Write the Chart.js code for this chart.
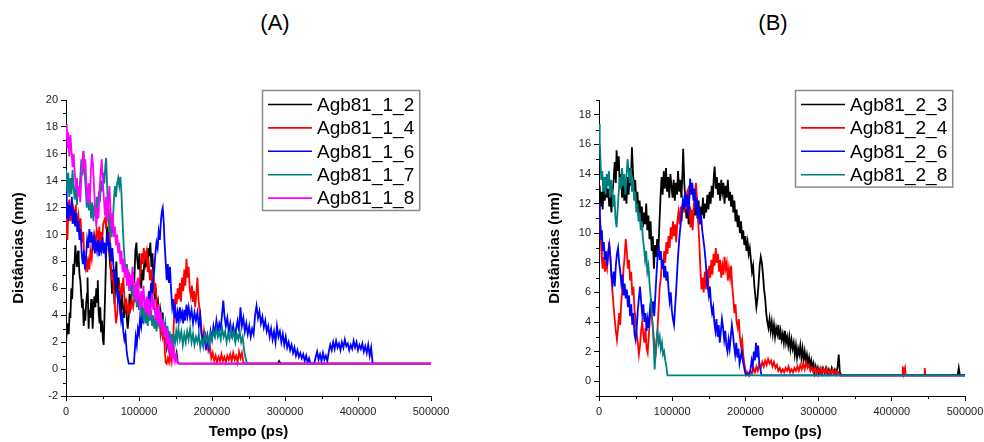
<!DOCTYPE html>
<html>
<head>
<meta charset="utf-8">
<script src="https://cdn.jsdelivr.net/npm/chart.js@4.4.1/dist/chart.umd.min.js"></script>
<style>
  body { margin: 0; width: 984px; height: 442px; overflow: hidden; background: #fff; position: relative; }
  canvas { position: absolute; top: 0; }
  #chartA { left: 0; }
  #chartB { left: 492px; }
  .panel { position: absolute; top: 10px; font: 22px Arial, "Liberation Sans", sans-serif; color: #000; transform: translateX(-50%); }
</style>
</head>
<body>
<div class="panel" style="left:275px">(A)</div>
<div class="panel" style="left:773px">(B)</div>
<canvas id="chartA" width="492" height="442"></canvas>
<canvas id="chartB" width="500" height="442"></canvas>
<script>
// tempos em ps x1000, distâncias em nm
const xTicks = [0, 100000, 200000, 300000, 400000, 500000];
const yTicksA = [-2, 0, 2, 4, 6, 8, 10, 12, 14, 16, 18, 20];
const yTicksB = [0, 2, 4, 6, 8, 10, 12, 14, 16, 18];

const namesA = ['Agb81_1_2', 'Agb81_1_4', 'Agb81_1_6', 'Agb81_1_7', 'Agb81_1_8'];
const namesB = ['Agb81_2_3', 'Agb81_2_4', 'Agb81_2_6', 'Agb81_2_8'];
const colorsA = ['#000000', '#ff0000', '#0000ff', '#008080', '#ff00ff'];
const colorsB = ['#000000', '#ff0000', '#0000ff', '#008080'];

const agb81_1_2 = [[0,2.0],[2,3.4],[3.7,2.6],[5,4.2],[6,3.8],[7.3,6.0],[8.5,5.2],[10,7.8],[11,7.0],[12.8,9.2],[14,8.1],[15,7.6],[16.5,8.8],[17.4,8.2],[18.5,7.0],[19.6,6.6],[21,5.4],[22,4.6],[23,5.2],[24.2,3.2],[25.5,4.0],[26.5,3.6],[27.5,4.8],[28.8,5.6],[29.5,6.8],[30.5,4.2],[31,3.0],[32,4.4],[33.3,3.8],[34.5,5.2],[35.6,4.4],[36.5,3.0],[37.9,4.8],[39,5.4],[40.2,4.6],[41.5,6.0],[42.5,5.0],[43.5,6.6],[44.7,4.2],[46,3.4],[47,4.6],[48,2.8],[49.3,3.6],[50.5,2.2],[51.6,1.8],[52.5,3.5],[53.9,6.2],[55,8.6],[56.2,10.6],[57,9.2],[58,10.0],[59,8.8],[60.7,7.6],[62,7.0],[63,5.6],[64,7.4],[65.5,6.0],[66.5,4.8],[67.6,6.6],[69,8.0],[70,6.2],[71,5.2],[72.1,6.8],[73.5,5.4],[75,4.0],[76.7,5.6],[78,4.6],[79.5,3.8],[81.3,5.2],[83,4.0],[84.5,3.0],[85.8,3.8],[87,5.6],[88.5,4.4],[90.4,6.0],[92,7.2],[93.5,6.4],[95,8.8],[96.5,9.4],[97.5,8.2],[99,7.4],[100.5,8.6],[102,7.0],[103,6.0],[104.5,7.4],[106,6.6],[107.5,8.2],[109,7.8],[110.5,8.8],[111.5,7.6],[113,9.0],[114,8.4],[115.5,9.4],[117,7.6],[118.5,8.6],[120,6.4],[121.5,5.2],[123,6.0],[124.5,4.6],[126,5.0],[127.5,3.6],[129,4.4],[131,3.4],[132.5,4.2],[134,2.8],[136,2.4],[138,1.6],[140,2.4],[141.5,1.6],[143,2.2],[145,1.4],[146.5,2.0],[148,1.0],[150,0.8],[151.5,1.2],[153,0.5],[155,0.4],[290,0.4],[292,0.6],[294,0.4],[500,0.4]];

const agb81_1_4 = [[0,12.2],[1,10.4],[2,9.6],[3,11.6],[4.5,12.6],[6,11.0],[7.8,12.0],[9,10.8],[10.5,11.8],[12,11.2],[13.5,12.2],[15,10.6],[16.9,11.4],[18.5,10.2],[20,11.2],[21.5,9.4],[23.7,10.2],[25,8.2],[26.5,7.6],[28,8.4],[29,7.2],[30.6,8.0],[32,7.4],[33.5,8.8],[35.2,8.2],[36.5,9.4],[37.4,8.8],[39,9.8],[40.5,9.2],[42,10.4],[44.3,9.6],[45.5,10.6],[46.6,9.2],[48,10.2],[49.5,9.4],[51,10.8],[53.4,11.2],[55,10.4],[56.5,11.8],[58,12.4],[59.5,10.8],[61,8.4],[62.6,6.6],[64,7.2],[65.5,5.8],[67,4.6],[68.5,3.4],[70.3,4.2],[71.5,5.4],[73,6.0],[74.5,5.2],[76,6.4],[77,5.6],[78.5,6.8],[80,5.4],[81.5,4.6],[83,5.0],[84.5,4.0],[86,4.8],[88,4.4],[90,5.2],[92,4.6],[94.5,5.6],[96,6.2],[97.5,5.4],[99,6.0],[101,6.6],[102.5,7.4],[103.6,8.6],[105,7.8],[106.5,9.0],[108,8.2],[110.5,8.8],[112,7.2],[113.5,7.8],[115,6.6],[116.5,7.4],[118,6.0],[119.5,7.0],[121,5.6],[122.5,6.4],[124,5.2],[125.5,4.0],[126.5,3.4],[128,3.8],[129.5,2.6],[131,3.2],[132.5,2.4],[134,2.8],[135.6,1.2],[136.5,0.5],[138,0.4],[139.5,0.8],[141,0.5],[142.5,1.2],[144,0.6],[145.5,1.4],[147,2.6],[148.5,4.2],[150,5.6],[151.5,4.8],[153,6.0],[154.5,5.2],[156,6.4],[157.5,5.0],[159,6.8],[160.7,5.8],[162,7.4],[163.5,6.2],[165,8.2],[166.5,6.8],[168,7.6],[169.5,6.0],[171,5.4],[172.5,6.2],[174,5.0],[175.5,5.8],[177,4.6],[178.5,5.6],[180,6.8],[181.5,5.2],[183,4.4],[184.5,3.2],[186,2.4],[187.5,2.0],[189,2.8],[191,1.8],[193,2.4],[195,1.4],[197,1.8],[199,0.8],[201,1.2],[203,0.6],[205,1.0],[207,0.5],[209,0.9],[211,0.6],[213,1.1],[215,0.6],[217,0.9],[219,0.5],[221,1.0],[223,0.7],[225,1.1],[227,0.6],[229,1.2],[231,0.7],[233,1.0],[235,0.5],[237,1.3],[239,0.8],[241,1.2],[243,0.5],[245,0.4],[500,0.4]];

const agb81_1_6 = [[0,13.6],[1,11.2],[2,12.4],[3.5,11.0],[5,12.2],[6.5,11.4],[8,12.8],[9.5,10.8],[11,11.8],[12.5,10.6],[14,11.6],[15.5,10.2],[17,11.0],[18.5,9.6],[20,10.4],[21.5,8.6],[23,7.8],[24.5,8.8],[26,7.4],[27.5,8.4],[29,9.6],[30.5,9.0],[32,10.4],[33.5,9.4],[35,10.2],[36.5,9.2],[38,9.8],[39.5,8.6],[41,9.4],[42.5,8.8],[44,9.6],[45.5,8.4],[47,9.2],[48.5,8.8],[50,9.8],[51.5,8.6],[53,9.4],[54.5,8.2],[56,9.6],[57.5,10.2],[59,8.8],[60.5,9.4],[62,8.0],[63.5,9.0],[65,7.6],[66.5,6.8],[68,7.4],[69.5,6.0],[71,5.2],[72.5,5.8],[74,4.4],[75.5,3.6],[77,4.2],[78.5,2.8],[80,2.2],[81.5,2.6],[83,1.4],[84.5,0.8],[86,0.4],[93,0.4],[94,1.2],[95.5,2.4],[97,1.8],[98.5,3.0],[100,2.6],[101.5,3.8],[103,3.2],[104.5,4.2],[106,3.4],[107.5,4.6],[109,4.0],[110.5,5.2],[112,4.4],[113.5,5.8],[115,4.8],[116.5,6.4],[118,5.6],[119.5,6.6],[121,7.4],[122.5,8.6],[124,9.4],[125.5,9.0],[127,10.2],[128.5,9.6],[130,11.0],[131.5,11.8],[132.5,12.0],[134,10.8],[135,9.4],[136.5,8.0],[138,6.6],[139.5,7.8],[141,6.4],[142.5,7.6],[144,5.8],[145.5,4.6],[147,5.2],[148.5,3.8],[150,4.4],[151.5,3.4],[153,4.2],[154.5,3.6],[156,4.6],[157.5,3.8],[159,4.2],[160.5,3.4],[162,4.4],[163.5,3.6],[165,4.8],[166.5,4.0],[168,4.6],[170,3.8],[172,4.4],[174,3.4],[176,4.2],[178,3.6],[180,4.2],[182,3.2],[184,4.0],[186,2.6],[188,1.8],[190,2.8],[192,1.4],[194,2.4],[196,1.6],[198,2.8],[200,2.2],[202,3.2],[204,2.6],[206,3.6],[208,2.8],[210,3.4],[212,3.0],[214,4.2],[215.5,5.1],[217,4.0],[219,3.2],[221,3.8],[223,2.8],[225,3.4],[227,2.6],[229,3.2],[231,2.4],[233,3.0],[235,3.6],[237,2.8],[239,4.6],[241,3.2],[243,3.8],[245,2.8],[247,3.4],[249,2.6],[251,3.2],[253,2.4],[255,3.0],[257,2.6],[259,4.0],[261,4.7],[263,3.8],[265,4.3],[267,3.4],[269,3.9],[271,3.1],[273,3.6],[275,2.8],[277,3.2],[279,2.4],[281,3.0],[283,2.2],[285,2.8],[287,2.0],[289,3.2],[291,2.4],[293,2.8],[295,2.0],[297,2.6],[299,1.8],[301,2.4],[303,1.6],[305,2.0],[307,1.4],[309,1.8],[311,1.2],[313,1.6],[315,1.0],[317,1.4],[319,0.9],[321,1.2],[323,0.8],[325,1.1],[327,0.6],[329,1.0],[331,0.5],[333,0.8],[335,0.4],[340,0.4],[342,0.9],[344,1.3],[346,0.7],[348,1.1],[350,0.6],[352,1.2],[354,0.7],[356,1.0],[358,0.6],[360,1.3],[362,1.8],[364,1.4],[366,2.0],[368,1.5],[370,2.1],[372,1.6],[374,1.9],[376,1.4],[378,2.0],[380,1.6],[382,2.2],[384,1.7],[386,1.9],[388,1.4],[390,1.8],[392,1.5],[394,2.1],[396,1.6],[398,2.0],[400,1.4],[402,1.8],[404,1.5],[406,1.9],[408,1.3],[410,1.7],[412,1.2],[414,1.8],[416,1.0],[418,1.6],[420,0.5],[421,0.4]];

const agb81_1_7 = [[0,14.8],[1.5,13.2],[3,14.6],[4.5,12.8],[6,14.2],[7.5,13.0],[9,14.8],[10.5,13.4],[12,12.6],[13.5,13.8],[15,12.2],[16.5,13.6],[18,12.8],[19.5,14.2],[21,15.6],[22.5,14.4],[24,16.2],[25.5,14.6],[27,13.4],[28.5,12.0],[30,13.0],[31.5,11.8],[33,12.6],[34.5,11.2],[36,12.4],[37.5,11.0],[39,12.2],[40.5,11.4],[42,12.8],[43.5,11.6],[45,13.2],[46.5,12.4],[48,14.0],[49.5,13.2],[51,14.6],[52.5,13.8],[54,15.2],[55,15.7],[56.5,13.4],[58,11.6],[59.5,10.2],[61,11.4],[62.5,9.8],[64,10.8],[65.5,12.4],[67,13.6],[68.5,12.8],[70,13.8],[71.5,14.2],[73,13.6],[74.5,14.3],[76,13.0],[77.5,11.0],[79,9.2],[80.5,8.0],[82,7.0],[83.5,7.8],[85,6.4],[86.5,7.2],[88,5.8],[89.5,6.8],[91,5.4],[92.5,6.2],[94,5.0],[95.5,5.8],[97,4.6],[98.5,5.4],[100,4.4],[101.5,5.2],[103,4.2],[104.5,4.8],[106,3.8],[107.5,4.4],[109,3.4],[110.5,4.2],[112,3.2],[113.5,4.6],[115,3.6],[116.5,4.4],[118,3.2],[119.5,4.0],[121,3.0],[122.5,3.8],[124,2.8],[125.5,3.6],[127,4.2],[128.5,3.4],[130,4.0],[131.5,3.0],[133,3.6],[134.5,2.8],[136,3.4],[137.5,2.4],[139,3.2],[140.5,2.0],[142,2.8],[143.5,1.8],[145,2.6],[146.5,1.6],[148,2.4],[149.5,2.0],[151,2.8],[152.5,2.2],[154,3.0],[156,2.2],[158,2.8],[160,1.8],[162,2.6],[164,2.0],[166,2.8],[168,2.2],[170,3.0],[172,2.0],[174,2.6],[176,1.8],[178,2.4],[180,2.0],[182,2.6],[184,1.6],[186,2.2],[188,1.8],[190,2.6],[192,2.0],[194,2.4],[196,1.8],[198,2.6],[200,2.2],[202,2.8],[204,2.4],[206,3.0],[208,2.4],[210,2.8],[212,2.2],[214,3.0],[216,2.4],[218,2.8],[220,2.0],[222,2.6],[224,2.2],[226,3.0],[228,2.4],[230,2.8],[232,2.0],[234,2.6],[236,2.2],[238,2.8],[240,2.0],[242,2.4],[244,1.4],[246,0.8],[248,0.4],[500,0.4]];

const agb81_1_8 = [[0,17.2],[1,18.2],[2,16.4],[3,17.6],[4.5,15.8],[6,17.4],[7.5,16.2],[9,15.0],[10.5,16.0],[12,14.6],[13.5,13.4],[15,14.2],[16.5,12.8],[18,13.6],[19.5,12.4],[21,14.2],[22.5,15.4],[23.7,16.2],[25,14.8],[26.5,15.6],[28,13.6],[29.5,12.4],[31,13.8],[32.5,12.2],[34,14.6],[35.5,16.0],[37,15.2],[38.5,13.4],[40,11.8],[41.5,10.6],[43,12.0],[44.5,11.2],[46,13.4],[47.5,14.6],[49,15.6],[50.5,13.8],[52,12.6],[53.5,11.4],[55,12.8],[56.5,11.0],[58,12.4],[59.5,13.6],[61,11.8],[62.5,10.4],[64,11.6],[65.5,9.8],[67,10.6],[68.5,9.2],[70,10.0],[71.5,8.6],[73,9.4],[74.5,7.8],[76,8.8],[77.5,7.2],[79,8.2],[80.5,6.8],[82,7.6],[83.5,6.2],[85,7.4],[86.5,5.8],[88,7.0],[89.5,6.2],[91,7.6],[92.5,6.4],[94,5.2],[95.5,6.4],[97,5.0],[98.5,6.8],[100,5.6],[101.5,4.4],[103,5.8],[104.5,4.6],[106,6.2],[107.5,5.0],[109,4.2],[110.5,5.4],[112,4.0],[113.5,5.2],[115,3.8],[116.5,4.8],[118,5.6],[119.5,4.4],[121,5.2],[122.5,3.6],[124,4.6],[125.5,3.4],[127,4.8],[128.5,3.2],[130,4.2],[131.5,2.8],[133,3.6],[134.5,2.4],[136,3.2],[137.5,2.0],[139,2.6],[140.5,1.6],[142,2.2],[143.5,1.2],[145,1.8],[146.5,0.8],[148,1.4],[149.5,0.6],[151,1.0],[152.5,0.5],[154,0.4],[500,0.4]];

const agb81_2_3 = [[0,12.4],[1,13.2],[2,11.8],[3.5,12.8],[5,11.6],[6.5,13.4],[8,12.2],[9.5,13.8],[11,12.4],[12.5,13.0],[14,11.8],[15.5,12.6],[17,11.4],[18.5,12.8],[20,13.6],[21.5,14.8],[23,13.4],[24,15.6],[25.5,14.2],[27,15.2],[28.5,13.0],[30,14.0],[31.5,12.4],[33,13.6],[34.5,12.2],[36,13.2],[37.5,12.0],[39,13.8],[40.5,12.6],[42,14.4],[43.5,13.2],[45,15.8],[46.5,14.0],[48,12.8],[49.5,13.6],[51,12.0],[52.5,12.8],[54,11.2],[55.5,12.2],[57,10.8],[58.5,11.8],[60,10.4],[61.5,11.4],[63,10.6],[64.5,12.0],[66,10.2],[67.5,11.2],[69,9.6],[70.5,10.8],[72,8.8],[73.5,9.8],[75,7.6],[76.5,9.2],[78,8.4],[79.5,9.6],[81,8.6],[82.5,10.6],[84,12.4],[85.5,13.8],[87,12.6],[88.5,14.2],[90,13.0],[91.5,14.4],[93,12.8],[94.5,13.8],[96,12.4],[97.5,14.0],[99,13.2],[100.5,12.4],[102,13.6],[103.5,12.2],[105,13.4],[106.5,12.6],[108,14.2],[109.5,12.8],[111,13.6],[112.5,12.4],[114,14.0],[115,15.7],[116.5,13.4],[118,12.2],[119.5,11.0],[121,12.0],[122.5,10.6],[124,11.8],[125.5,10.4],[127,11.4],[128.5,10.8],[130,12.0],[131.5,11.2],[133,12.6],[134.5,11.0],[136,12.2],[137.5,10.8],[139,11.8],[140.5,11.2],[142,12.4],[143.5,11.0],[145,12.0],[146.5,11.4],[148,12.6],[149.5,11.6],[151,12.8],[152.5,12.0],[154,13.2],[155.5,12.4],[157,14.0],[158,14.5],[159.5,13.0],[161,13.8],[162.5,12.6],[164,13.4],[165.5,12.2],[167,13.6],[168.5,12.8],[170,13.4],[171.5,12.0],[173,13.2],[174.5,12.4],[176,13.6],[177.5,12.2],[179,12.8],[180.5,11.8],[182,12.6],[183.5,11.4],[185,12.2],[186.5,10.8],[188,11.6],[189.5,10.4],[191,11.2],[192.5,10.0],[194,10.8],[195.5,9.6],[197,10.2],[198.5,9.2],[200,9.8],[201.5,8.8],[203,9.4],[204.5,8.6],[206,9.0],[207.5,8.2],[209,7.4],[210.5,7.8],[212,6.6],[213.5,5.8],[215,5.0],[216.5,5.6],[218,6.6],[219.5,7.8],[221,8.4],[222.5,8.0],[224,7.2],[225.5,6.2],[227,5.6],[228.5,4.6],[230,4.0],[231.5,3.6],[233,4.2],[234.5,3.4],[236,4.0],[237.5,3.2],[239,3.8],[240.5,3.0],[242,3.6],[243.5,3.2],[245,3.8],[246.5,2.8],[248,3.4],[249.5,2.8],[251,3.2],[252.5,2.6],[254,3.4],[255.5,2.6],[257,3.0],[258.5,2.4],[260,3.0],[261.5,2.2],[263,2.8],[264.5,2.2],[266,2.6],[267.5,1.8],[269,2.4],[270.5,1.6],[272,2.2],[273.5,1.8],[275,2.4],[276.5,1.6],[278,2.2],[279.5,1.4],[281,2.0],[282.5,1.4],[284,1.8],[285.5,1.2],[287,1.6],[288.5,1.0],[290,1.4],[291.5,0.9],[293,1.2],[294.5,0.6],[296,1.0],[297.5,0.6],[299,0.9],[300.5,0.5],[302,0.8],[304,0.5],[306,0.9],[308,0.6],[310,0.9],[312,0.5],[314,0.8],[316,0.5],[318,0.9],[320,0.6],[322,0.8],[324,0.5],[326,1.0],[327.5,1.8],[329,0.6],[331,0.4],[490,0.4],[491.5,0.9],[493,0.4],[500,0.4]];

const agb81_2_4 = [[0,12.0],[1,11.2],[2,10.2],[3,9.0],[4,8.2],[5,7.6],[6.5,8.4],[8,7.4],[9.5,8.0],[11,7.6],[12.5,8.6],[14,9.4],[15.5,8.4],[17,7.0],[18.5,6.0],[20,5.0],[21.5,4.2],[23,3.4],[24.5,2.8],[26,3.6],[27.5,4.6],[29,3.8],[30.5,5.4],[32,6.2],[33.5,7.6],[35,8.4],[36.5,9.6],[38,8.8],[39.5,7.6],[41,8.2],[42.5,6.8],[44,7.4],[45.5,5.8],[47,6.4],[48.5,4.8],[50,4.2],[51.5,3.2],[53,2.6],[54.5,1.8],[56,2.4],[57.5,3.4],[59,4.0],[60.5,3.2],[62,2.6],[63.5,3.6],[65,2.2],[66.5,1.9],[68,3.0],[69.5,4.2],[71,5.0],[72.5,4.2],[74,3.4],[75.5,2.6],[77,1.6],[78.5,2.4],[80,3.6],[81.5,5.0],[83,6.4],[84.5,7.0],[86,8.2],[87.5,7.6],[89,8.8],[90.5,8.0],[92,9.4],[93.5,8.6],[95,9.8],[96.5,9.0],[98,10.4],[99.5,9.6],[101,10.8],[102.5,9.8],[104,10.6],[105.5,9.4],[107,10.8],[108.5,11.4],[110,10.6],[111.5,11.8],[113,10.8],[114.5,12.0],[116,11.4],[117.5,12.4],[119,11.6],[120.5,12.8],[122,13.0],[123.5,11.8],[125,10.4],[126.5,11.6],[128,10.2],[129.5,11.8],[131,12.8],[132.5,13.4],[134,12.0],[135.5,10.8],[137,9.4],[138.5,7.6],[140,6.2],[141.5,7.0],[143,6.0],[144.5,7.4],[146,6.2],[147.5,7.6],[149,6.4],[150.5,7.8],[152,7.0],[153.5,8.2],[155,7.2],[156.5,8.6],[158,7.8],[159.5,9.0],[161,8.0],[162.5,8.6],[164,7.4],[165.5,8.2],[167,7.0],[168.5,7.8],[170,7.2],[171.5,8.4],[173,7.6],[174.5,8.0],[176,6.8],[177.5,7.6],[179,7.0],[180.5,7.8],[182,6.4],[183.5,5.6],[185,4.6],[186.5,5.2],[188,4.0],[189.5,3.6],[191,4.2],[192.5,3.0],[194,2.4],[195.5,2.8],[197,1.8],[198.5,1.2],[200,0.8],[201.5,0.5],[203,0.6],[205,0.4],[207,0.7],[209,0.5],[211,0.9],[213,0.6],[215,1.0],[217,0.7],[219,1.2],[221,0.9],[223,1.3],[225,1.0],[227,1.4],[229,1.1],[231,1.5],[233,1.2],[235,1.4],[237,1.0],[239,1.3],[241,0.9],[243,1.1],[245,0.7],[247,0.9],[249,0.6],[251,0.8],[253,0.6],[255,0.9],[257,0.7],[259,1.0],[261,0.6],[263,0.8],[265,0.6],[267,0.9],[269,0.7],[271,1.0],[273,0.7],[275,1.1],[277,0.8],[279,1.2],[281,0.8],[283,1.3],[285,0.9],[287,1.1],[289,0.7],[291,0.9],[293,0.6],[295,0.9],[297,0.5],[299,0.8],[301,0.6],[303,0.9],[305,0.5],[307,0.8],[309,0.6],[311,0.9],[313,0.5],[315,0.7],[317,0.5],[319,0.8],[321,0.5],[323,0.7],[325,0.5],[327,0.6],[329,0.4],[414,0.4],[415,1.0],[416,0.5],[418,0.9],[419,0.4],[444,0.4],[445,0.9],[446,0.4],[500,0.4]];

const agb81_2_6 = [[0,12.0],[1,11.4],[2,10.4],[3,9.6],[4,10.2],[5,8.8],[6.5,9.4],[8,8.2],[9.5,8.8],[11,7.8],[12.5,8.6],[14,9.2],[15.5,8.4],[17,7.2],[18.5,6.6],[20,7.4],[21.5,6.4],[23,7.8],[24.5,8.6],[26,9.0],[27.5,8.0],[29,7.4],[30.5,6.6],[32,7.2],[33.5,5.8],[35,6.6],[36.5,5.6],[38,6.2],[39.5,5.0],[41,5.8],[42.5,4.4],[44,5.2],[45.5,3.8],[47,4.6],[48.5,3.2],[50,2.8],[51.5,3.6],[53,4.8],[54.5,5.6],[56,6.4],[57.5,5.4],[59,4.6],[60.5,5.2],[62,4.0],[63.5,4.6],[65,3.4],[66.5,4.2],[68,3.6],[69.5,4.8],[71,5.6],[72.5,4.6],[74,5.4],[75.5,4.4],[77,5.8],[78.5,7.2],[80,8.4],[81.5,9.2],[83,8.2],[84.5,8.8],[86,7.6],[87.5,8.2],[89,7.0],[90.5,7.8],[92,6.8],[93.5,7.4],[95,6.2],[96.5,5.4],[98,6.0],[99.5,4.8],[101,4.2],[102.5,3.8],[104,5.0],[105.5,6.2],[107,7.6],[108.5,8.8],[110,9.8],[111.5,10.6],[113,11.4],[114.5,12.2],[116,11.6],[117.5,12.8],[119,11.8],[120.5,12.6],[122,11.2],[123.5,12.4],[124.5,13.7],[126,12.6],[127.5,13.4],[129,12.2],[130.5,13.0],[132,11.6],[133.5,12.4],[135,11.0],[136.5,11.8],[138,10.6],[139.5,11.2],[141,10.2],[142.5,9.6],[144,9.0],[145.5,8.2],[147,7.2],[148.5,6.4],[150,5.8],[151.5,6.4],[153,5.2],[154.5,4.6],[156,5.0],[157.5,4.0],[159,3.4],[160.5,4.2],[162,3.0],[163.5,3.8],[165,2.6],[166.5,3.4],[168,4.2],[169.5,3.6],[171,2.8],[172.5,3.4],[174,2.4],[175.5,2.0],[177,2.8],[178.5,2.2],[180,3.0],[181.5,3.8],[183,3.2],[184.5,2.4],[186,1.8],[187.5,2.6],[189,1.6],[190.5,2.2],[192,1.2],[193.5,1.6],[195,2.0],[196.5,1.4],[198,1.0],[199.5,0.6],[201,0.4],[203,0.5],[205,0.4],[207,0.8],[208.5,1.4],[210,1.0],[211.5,2.0],[213,1.4],[214.5,2.6],[216,1.6],[217.5,2.4],[219,1.2],[220.5,0.8],[222,0.4],[500,0.4]];

const agb81_2_8 = [[0,17.4],[1,16.2],[2,15.0],[3,13.6],[4.5,14.2],[6,12.8],[7.5,13.8],[9,12.6],[10.5,14.0],[12,13.2],[13.5,14.2],[15,12.4],[16.5,13.6],[18,12.8],[19.5,11.8],[21,12.6],[22.5,11.0],[24,10.4],[25.5,11.6],[27,12.8],[28.5,13.8],[30,13.0],[31.5,14.4],[33,13.2],[34.5,14.0],[36,12.6],[37.5,13.8],[39,15.0],[40.5,14.2],[42,13.4],[43.5,14.4],[45,12.8],[46.5,13.6],[48,12.2],[49.5,12.8],[51,11.4],[52.5,12.0],[54,10.8],[55.5,11.4],[57,10.2],[58.5,10.8],[60,9.6],[61.5,9.0],[63,8.2],[64.5,8.8],[66,7.4],[67.5,7.8],[69,6.6],[70.5,5.8],[72,4.6],[73.5,3.6],[75,2.2],[76,0.8],[77,1.6],[78.5,2.8],[80,3.4],[81.5,2.6],[83,3.0],[84.5,2.2],[86,2.6],[87.5,1.8],[89,2.0],[90.5,1.4],[92,1.0],[93.5,0.4],[500,0.4]];

const seriesA = [agb81_1_2, agb81_1_4, agb81_1_6, agb81_1_7, agb81_1_8];
const seriesB = [agb81_2_3, agb81_2_4, agb81_2_6, agb81_2_8];

const FONT = 'Arial, "Liberation Sans", sans-serif';

const toXY = pairs => pairs.map(([t, d]) => ({ x: t * 1000, y: d }));

// ticks menores no meio dos maiores (estilo Origin)
const minorTicks = {
    id: 'minorTicks',
    afterDraw(chart) {
        const { ctx } = chart;
        const sx = chart.scales.x, sy = chart.scales.y;
        ctx.save();
        ctx.strokeStyle = '#000';
        ctx.lineWidth = 1;
        ctx.beginPath();
        const xs = sx.ticks.map(t => t.value);
        const xStep = (xs[1] - xs[0]) / 2;
        for (let v = xs[0] + xStep; v < sx.max; v += 2 * xStep) {
            const px = Math.round(sx.getPixelForValue(v)) + 0.5;
            ctx.moveTo(px, sx.top);
            ctx.lineTo(px, sx.top + 3);
        }
        const ys = sy.ticks.map(t => t.value);
        const yStep = (ys[1] - ys[0]) / 2;
        let start = ys[0] - yStep;
        while (start - 2 * yStep >= sy.min) start -= 2 * yStep;
        for (let v = start; v <= sy.max + 1e-9; v += 2 * yStep) {
            if (v < sy.min) continue;
            const py = Math.round(sy.getPixelForValue(v)) + 0.5;
            ctx.moveTo(sy.right, py);
            ctx.lineTo(sy.right - 3, py);
        }
        ctx.stroke();
        ctx.restore();
    }
};

// legenda com caixa dentro do gráfico
const boxLegend = {
    id: 'boxLegend',
    afterDraw(chart, args, opts) {
        const { ctx } = chart;
        ctx.save();
        ctx.font = '19px ' + FONT;
        const textW = Math.max(...opts.names.map(n => ctx.measureText(n).width));
        const rowH = 23.4;
        const w = 6 + 44 + 5 + textW + 5;
        const h = opts.names.length * rowH + 3;
        const x = opts.left, y = opts.top;
        ctx.fillStyle = '#fff';
        ctx.fillRect(x, y, w, h);
        ctx.strokeStyle = '#8a8a8a';
        ctx.lineWidth = 1.5;
        ctx.strokeRect(x + 0.5, y + 0.5, w, h);
        ctx.textBaseline = 'middle';
        opts.names.forEach((n, i) => {
            const cy = y + 14.5 + i * rowH;
            ctx.strokeStyle = opts.colors[i];
            ctx.lineWidth = 1.6;
            ctx.beginPath();
            ctx.moveTo(x + 6, cy);
            ctx.lineTo(x + 50, cy);
            ctx.stroke();
            ctx.fillStyle = '#000';
            ctx.fillText(n, x + 55, cy + 1);
        });
        ctx.restore();
    }
};

function makeChart(id, series, names, colors, yMin, yMax, yTicks, layout, legendPos) {
    const n = series.length;
    return new Chart(document.getElementById(id).getContext('2d'), {
        type: 'line',
        data: {
            datasets: series.map((s, i) => ({
                label: names[i],
                data: toXY(s),
                borderColor: colors[i],
                borderWidth: 1.8,
                pointRadius: 0,
                tension: 0,
                fill: false,
                order: n - i
            }))
        },
        options: {
            responsive: false,
            animation: false,
            events: [],
            layout: { padding: layout.padding },
            plugins: {
                legend: { display: false },
                tooltip: { enabled: false },
                boxLegend: { names, colors, left: legendPos.left, top: legendPos.top }
            },
            scales: {
                x: {
                    type: 'linear',
                    min: 0,
                    max: 500000,
                    afterBuildTicks: s => { s.ticks = xTicks.map(v => ({ value: v })); },
                    afterFit: s => { s.height = layout.xHeight; },
                    ticks: { color: '#222', font: { family: FONT, size: 11 }, padding: 4, maxRotation: 0, callback: v => String(v) },
                    grid: { display: true, drawOnChartArea: false, drawTicks: true, tickLength: 5, color: '#000' },
                    border: { display: true, color: '#000', width: 1 },
                    title: { display: true, text: 'Tempo (ps)', color: '#000', font: { family: FONT, size: 15, weight: 'bold' }, padding: { top: 0, bottom: 1 } }
                },
                y: {
                    type: 'linear',
                    min: yMin,
                    max: yMax,
                    afterBuildTicks: s => { s.ticks = yTicks.map(v => ({ value: v })); },
                    afterFit: s => { s.width = layout.yWidth; },
                    ticks: { color: '#222', font: { family: FONT, size: 11 }, padding: 3, callback: v => String(v) },
                    grid: { display: true, drawOnChartArea: false, drawTicks: true, tickLength: 5, color: '#000' },
                    border: { display: true, color: '#000', width: 1 },
                    title: { display: true, text: 'Distâncias (nm)', color: '#000', font: { family: FONT, size: 15, weight: 'bold' }, padding: { top: 4, bottom: 4 } }
                }
            }
        },
        plugins: [minorTicks, boxLegend]
    });
}

document.addEventListener('DOMContentLoaded', () => {
    makeChart('chartA', seriesA, namesA, colorsA, -2, 20, yTicksA,
        { padding: { left: 6, right: 61, top: 100, bottom: 0 }, yWidth: 60, xHeight: 46 },
        { left: 262, top: 90 });
    makeChart('chartB', seriesB, namesB, colorsB, -1, 19, yTicksB,
        { padding: { left: 50, right: 27, top: 100, bottom: 0 }, yWidth: 57, xHeight: 46 },
        { left: 303, top: 90 });
});
</script>
</body>
</html>
